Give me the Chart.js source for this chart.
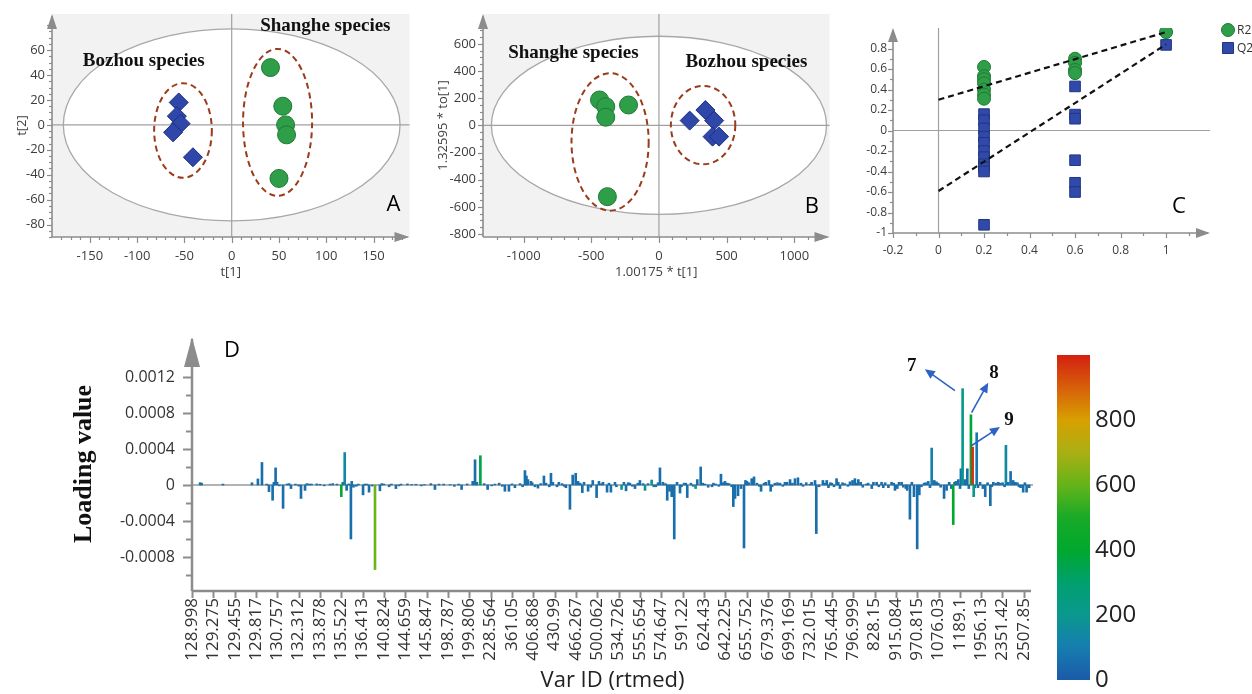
<!DOCTYPE html>
<html>
<head>
<meta charset="utf-8">
<title>Scores, permutation test and loading plot</title>
<script src="https://cdn.jsdelivr.net/npm/chart.js@4.4.1/dist/chart.umd.min.js"></script>
<style>
  body { margin: 0; background: #fff; }
  #wrap { position: relative; width: 1252px; height: 694px; overflow: hidden; }
  canvas { position: absolute; }
</style>
</head>
<body>
<div id="wrap">
  <canvas id="chartA" width="420" height="300" style="left:0;top:0"></canvas>
  <canvas id="chartB" width="420" height="300" style="left:420px;top:0"></canvas>
  <canvas id="chartC" width="412" height="300" style="left:840px;top:0"></canvas>
  <canvas id="chartD" width="1050" height="374" style="left:0;top:320px"></canvas>
  <canvas id="colorBar" width="202" height="354" style="left:1050px;top:340px"></canvas>
</div>
<script>
// ---- A : PCA score plot
const aShangheX = [41, 54, 57, 58, 50];
const aShangheY = [46, 15, 0, -8, -43];
const aBozhouX = [-56, -58, -54, -62, -41];
const aBozhouY = [18, 7, 1, -6, -26];
const aEllipse = [178, 77];                 // Hotelling T2 radii
const aGroupShanghe = [48.5, 2, 36.5, 59];  // cx, cy, rx, ry
const aGroupBozhou = [-51.5, -4.5, 30.5, 38];

// ---- B : OPLS-DA score plot
const bShangheX = [-439, -393, -393, -225, -381];
const bShangheY = [187, 138, 60, 150, -525];
const bBozhouX = [227, 343, 408, 396, 444];
const bBozhouY = [35, 113, 35, -83, -83];
const bEllipse = [1238, 656];
const bGroupShanghe = [-361, -122, 285, 506];
const bGroupBozhou = [326, 2, 238, 289];

// ---- C : permutation test
const cR2X = [0.2, 0.2, 0.2, 0.2, 0.2, 0.2, 0.2, 0.6, 0.6, 0.6, 0.6, 1];
const cR2Y = [0.62, 0.53, 0.50, 0.46, 0.40, 0.35, 0.31, 0.70, 0.66, 0.59, 0.56, 0.96];
const cQ2X = [0.2, 0.2, 0.2, 0.2, 0.2, 0.2, 0.2, 0.2, 0.2, 0.2, 0.2, 0.6, 0.6, 0.6, 0.6, 0.6, 0.6, 1];
const cQ2Y = [0.16, 0.10, 0.02, -0.06, -0.12, -0.20, -0.26, -0.33, -0.36, -0.40, -0.92,
              0.43, 0.155, 0.115, -0.29, -0.51, -0.60, 0.835];
const cFitX = [0, 1];
const cR2Fit = [0.30, 0.96];
const cQ2Fit = [-0.59, 0.84];

// ---- D : loading plot (x in tick units, loading in 1e-4, colour = colour bar value)
const varTicks = ['128.998', '129.275', '129.455', '129.817', '130.757', '132.312', '133.878', '135.522',
  '136.413', '140.824', '144.659', '145.847', '198.787', '199.806', '228.564', '361.05', '406.868', '430.99',
  '466.267', '500.062', '534.726', '555.654', '574.647', '591.22', '624.43', '642.225', '655.752', '679.376',
  '699.169', '732.015', '765.445', '796.999', '828.15', '915.084', '970.815', '1076.03', '1189.1', '1956.13',
  '2351.42', '2507.85'];
const loadPos = [
  0.38, 0.45, 1.45, 2.81, 3.09, 3.28, 3.61, 3.78, 3.84, 3.92, 3.99, 4.27, 4.45, 4.64, 4.85, 5.11, 5.30, 5.39, 5.6, 6.0, 6.47, 6.8,
  7.00, 7.07, 7.16, 7.25, 7.45, 7.49, 7.57, 7.8, 8.02, 8.2, 8.30, 8.58, 8.81, 9.0, 9.24, 9.56, 9.8,
  10.3, 10.9, 11.39, 11.58, 12.1, 12.64, 13.16, 13.27, 13.36, 13.52, 13.86, 14.2, 14.67, 14.86, 15.14, 15.38, 15.61, 15.68,
  15.75, 15.89, 16.08, 16.22, 16.50, 16.6, 16.83, 16.92, 17.11, 17.35, 17.53, 17.72, 17.85, 17.99, 18.10, 18.30, 18.38, 18.57,
  18.79, 18.97, 19.08, 19.27, 19.46, 19.64,
  19.83, 20.14, 20.25, 20.35, 20.53, 20.77, 21.0, 21.24, 21.38, 21.55, 21.75, 21.94, 22.08, 22.28, 22.39, 22.49, 22.61, 22.74,
  22.88, 23.07, 23.22, 23.39, 23.61, 23.69, 23.85, 24.05, 24.38, 24.56, 24.80, 24.99, 25.18, 25.38, 25.46, 25.60, 25.74, 25.88,
  25.95, 26.02, 26.24, 26.35, 26.49, 26.68, 26.82, 27.05, 27.13, 27.33, 27.57, 27.80, 28.04, 28.27, 28.41, 28.55, 28.97, 29.21,
  29.27, 29.58,
  29.76, 29.84, 30.0, 30.22, 30.38, 30.61, 30.97, 31.08, 31.24, 31.35, 31.6, 31.87, 32.10, 32.33, 32.41, 32.80, 32.96, 33.07,
  33.27, 33.47, 33.53, 33.66, 33.85, 34.0, 34.10, 34.32, 34.52, 34.68, 34.80, 34.99, 35.26, 35.38, 35.69, 35.82, 35.93, 36.01,
  36.05, 36.13, 36.24, 36.35, 36.42, 36.52, 36.60, 36.65, 36.79, 36.85, 37.08, 37.19, 37.43, 37.57, 37.69, 37.88, 38.16, 38.26,
  38.38, 38.50, 38.77, 38.97, 39.13
];
const loadE4 = [
  0.25, 0.2, 0.1, 0.25, 0.67, 2.5, -0.74, -1.7, 0.3, 1.9, 0.3, -2.6, 0.1, -0.4, 0.1, -1.5, -0.6, 0.15, 0.1, 0.08, 0.1, 0.1,
  -1.3, 0.3, 3.6, -0.6, -6.0, 0.4, -0.25, 0.1, -1.1, 0.1, -0.8, -9.4, -0.65, 0.1, -0.2, -0.4, 0.1,
  0.05, 0.05, -0.5, 0.1, 0.05, -0.5, 0.4, 2.8, 0.3, 3.25, -0.5, 0.1, -0.7, -0.7, -0.3, 0.15, 1.6, 1.0,
  0.6, 0.4, -0.2, -0.35, 1.0, 0.2, 1.3, 0.3, -0.2, 0.15, -0.3, -2.7, 1.1, 1.3, 0.4, -0.85, 0.3, -0.7,
  0.5, -1.4, 0.4, 0.3, -0.8, -0.8,
  0.3, -0.5, 0.3, -0.65, 0.2, -0.4, 0.5, -0.6, 0.15, 0.55, -0.2, 1.9, 0.3, -1.7, -0.7, -1.3, -6.0, 0.3,
  -0.9, 0.2, -1.4, 0.2, -0.4, 0.6, 2.0, 0.1, -0.2, 0.1, 1.2, 0.4, 0.15, -2.4, -1.5, -1.2, -0.4, -7.0,
  0.5, 0.4, 0.7, 0.9, 0.2, -0.7, 0.2, 0.5, -0.7, 0.2, 0.2, 0.3, 0.6, 0.7, 0.8, 0.2, 0.1, 0.5,
  -5.4, 0.5,
  0.5, -0.3, 0.2, 0.7, -0.4, 0.15, 0.5, 0.7, 0.6, 0.3, 0.1, -0.4, 0.3, 0.3, -0.3, 0.3, -0.6, -0.4,
  0.3, -0.4, -0.6, -3.8, -1.3, -7.1, -1.1, 0.2, 0.4, 4.1, 0.5, 0.2, -1.5, -0.6, -4.4, 0.4, 0.6, -0.4,
  1.8, 10.7, 0.6, 1.8, -0.4, 7.8, 4.2, -1.3, 5.8, -0.3, -0.4, -1.3, -2.3, 0.3, 0.2, 0.2, 4.4, 0.3,
  1.5, 0.5, -0.2, -0.8, -0.8
];
const loadCol = [
  60, 60, 60, 60, 60, 60, 60, 60, 60, 60, 60, 60, 60, 60, 60, 60, 60, 60, 60, 60, 60, 60,
  440, 60, 140, 60, 60, 60, 60, 60, 60, 60, 60, 610, 60, 60, 60, 60, 60,
  60, 60, 60, 60, 60, 60, 60, 60, 60, 360, 60, 60, 60, 60, 60, 60, 60, 60,
  60, 60, 60, 60, 60, 60, 60, 60, 60, 60, 60, 60, 60, 60, 60, 60, 60, 60,
  60, 60, 60, 60, 60, 60,
  60, 190, 60, 60, 60, 60, 60, 190, 60, 200, 60, 60, 60, 60, 60, 60, 60, 60,
  60, 60, 60, 60, 190, 60, 60, 60, 60, 60, 60, 60, 60, 60, 60, 60, 60, 60,
  60, 60, 60, 60, 60, 60, 60, 60, 60, 60, 60, 60, 60, 60, 60, 60, 60, 60,
  60, 60,
  60, 60, 60, 60, 60, 60, 60, 60, 60, 60, 60, 60, 60, 60, 60, 60, 60, 60,
  60, 60, 60, 60, 60, 60, 60, 60, 60, 110, 60, 60, 60, 60, 400, 60, 60, 60,
  60, 210, 60, 60, 60, 380, 970, 220, 90, 60, 60, 60, 60, 60, 60, 60, 140, 60,
  60, 60, 60, 60, 60
];
// the many near-zero loadings that thicken the baseline (all low colour value)
const smallPos = [
  3.5, 4.1, 4.55, 5.0, 5.5, 5.85, 6.2, 6.6, 7.35, 7.7,
  8.1, 8.45, 8.9, 9.35, 9.7, 10.1, 10.5, 10.75, 11.2, 11.8,
  12.3, 12.5, 12.9, 13.7, 14.05, 14.4, 14.55, 15.0, 15.5, 15.95,
  16.35, 16.75, 17.2, 17.45, 18.2, 18.7, 19.2, 19.55, 19.9, 20.45,
  20.65, 20.9, 21.15, 21.65, 21.85, 22.2, 22.95, 23.15, 23.5, 23.95,
  24.2, 24.45, 24.7, 24.9, 25.1, 25.3, 26.1, 26.6, 26.9, 27.2,
  27.45, 27.7, 27.9, 28.15, 28.65, 28.8, 29.05, 29.4, 29.68, 29.93,
  30.1, 30.3, 30.5, 30.75, 30.85, 31.15, 31.45, 31.7, 31.95, 32.2,
  32.5, 32.65, 32.9, 33.15, 33.35, 33.75, 34.2, 34.4, 34.6, 34.9,
  35.1, 35.5, 35.6, 35.75, 36.3, 36.7, 36.95, 37.3, 37.5, 37.8,
  38.0, 38.1, 38.6, 38.7, 38.85, 39.05, 39.25
];
const smallE4 = [
  0.1, -0.1, 0.15, -0.12, 0.1, 0.12, -0.1, 0.15, 0.12, -0.15,
  0.1, -0.12, 0.15, 0.1, -0.1, 0.12, 0.08, -0.1, 0.15, 0.1,
  -0.15, 0.1, 0.12, 0.15, -0.1, 0.2, -0.15, 0.12, -0.2, 0.25,
  0.15, -0.2, 0.3, -0.15, 0.2, -0.25, 0.15, 0.2, -0.2, 0.25,
  -0.15, 0.2, 0.15, -0.2, 0.25, 0.15, -0.2, 0.2, -0.15, 0.2,
  -0.25, 0.2, -0.15, 0.25, 0.2, -0.2, 0.25, -0.15, 0.3, -0.2,
  0.25, -0.15, 0.3, 0.2, -0.15, 0.25, 0.3, -0.2, 0.2, 0.25,
  -0.2, 0.3, 0.25, -0.15, 0.35, 0.2, -0.25, 0.2, 0.3, -0.2,
  0.25, -0.3, 0.2, 0.3, -0.25, 0.3, -0.2, 0.25, -0.3, 0.35,
  -0.25, 0.3, -0.4, 0.3, 0.35, -0.3, 0.3, 0.25, -0.2, 0.3,
  0.25, -0.2, 0.3, 0.25, -0.3, 0.25, -0.3
];
const smallCol = 60;
const barTicks = [0, 200, 400, 600, 800];

if (loadPos.length !== loadE4.length || loadPos.length !== loadCol.length || smallPos.length !== smallE4.length) {
  console.error('loading arrays differ', loadPos.length, loadE4.length, loadCol.length, smallPos.length, smallE4.length);
}

const SANS = "'Open Sans', 'Noto Sans', sans-serif";
const SERIF = "'Liberation Serif', 'DejaVu Serif', serif";
const AXIS = '#8c8c8c';
const GREEN = '#2e9e48', GREEN_EDGE = '#1f7a35';
const BLUE = '#2f47a8', BLUE_EDGE = '#1e2f82';

Chart.defaults.font.family = SANS;
Chart.defaults.color = '#3c3c3c';

// colour bar stops (value, r, g, b)
const cmapStops = [
  [0, 27, 90, 168], [100, 22, 125, 175], [200, 10, 152, 142], [300, 0, 160, 110],
  [400, 0, 168, 45], [500, 25, 170, 40], [600, 100, 180, 25], [700, 170, 175, 20],
  [800, 215, 160, 0], [900, 215, 95, 10], [1000, 212, 32, 16]
];
function cmap(v) {
  for (let i = 1; i < cmapStops.length; i++) {
    const a = cmapStops[i - 1], b = cmapStops[i];
    if (v <= b[0]) {
      const t = (v - a[0]) / (b[0] - a[0]);
      const c = [1, 2, 3].map(k => Math.round(a[k] + (b[k] - a[k]) * t));
      return 'rgb(' + c.join(',') + ')';
    }
  }
  const l = cmapStops[cmapStops.length - 1];
  return 'rgb(' + l[1] + ',' + l[2] + ',' + l[3] + ')';
}

function pts(xs, ys) { return xs.map((v, i) => ({x: v, y: ys[i]})); }

function isMult(v, step) {
  const r = v / step;
  return Math.abs(r - Math.round(r)) < 1e-6;
}

function ellipsePath(ctx, x, y, g) {
  const cx = x.getPixelForValue(g[0]), cy = y.getPixelForValue(g[1]);
  const rx = Math.abs(x.getPixelForValue(g[0] + g[2]) - cx);
  const ry = Math.abs(y.getPixelForValue(g[1] + g[3]) - cy);
  ctx.beginPath();
  ctx.ellipse(cx, cy, rx, ry, 0, 0, Math.PI * 2);
}

function tickMarks(ctx, scale, t, horiz, a) {
  const first = Math.ceil(t.from / t.minor - 1e-6);
  for (let k = first; k * t.minor <= t.to + 1e-9; k++) {
    const v = k * t.minor;
    const len = isMult(v, t.major) ? t.majLen : t.minLen;
    const p = Math.round(scale.getPixelForValue(v)) + 0.5;
    ctx.beginPath();
    if (horiz) { ctx.moveTo(p, a.bottom); ctx.lineTo(p, a.bottom + len); }
    else { ctx.moveTo(a.left, p); ctx.lineTo(a.left - len, p); }
    ctx.stroke();
  }
}

// background, ellipses, axes with arrows, and text annotations
function deco(o) {
  return {
    id: 'deco',
    beforeDatasetsDraw(chart) {
      const {ctx, chartArea: a, scales: {x, y}} = chart;
      ctx.save();
      if (o.bg) {
        ctx.fillStyle = o.bg;
        ctx.fillRect(a.left, a.top, a.right - a.left, a.bottom - a.top);
      }
      if (o.ellipse) {
        ellipsePath(ctx, x, y, [0, 0, o.ellipse[0], o.ellipse[1]]);
        ctx.fillStyle = '#fff';
        ctx.fill();
        ctx.strokeStyle = '#a8a8a8';
        ctx.lineWidth = 1.3;
        ctx.stroke();
      }
      ctx.strokeStyle = o.zeroColor || '#a0a0a0';
      ctx.lineWidth = o.zeroWidth || 1.2;
      if (o.zeroX) {
        const px = x.getPixelForValue(0);
        ctx.beginPath(); ctx.moveTo(px, a.top); ctx.lineTo(px, a.bottom); ctx.stroke();
      }
      if (o.zeroY) {
        const py = y.getPixelForValue(0);
        ctx.beginPath(); ctx.moveTo(a.left, py); ctx.lineTo(a.right, py); ctx.stroke();
      }
      (o.groups || []).forEach(g => {
        ellipsePath(ctx, x, y, g);
        ctx.setLineDash([6, 4]);
        ctx.strokeStyle = '#9a3b1b';
        ctx.lineWidth = 2;
        ctx.stroke();
        ctx.setLineDash([]);
      });
      // axes
      ctx.strokeStyle = AXIS;
      ctx.fillStyle = AXIS;
      ctx.lineWidth = o.axisWidth;
      ctx.beginPath(); ctx.moveTo(a.left, a.bottom); ctx.lineTo(a.left, a.top + 2); ctx.stroke();
      ctx.beginPath(); ctx.moveTo(a.left, a.bottom); ctx.lineTo(a.right - 2, a.bottom); ctx.stroke();
      ctx.lineWidth = o.tickWidth || 1.2;
      tickMarks(ctx, x, o.xTicks, true, a);
      tickMarks(ctx, y, o.yTicks, false, a);
      const L = o.arrowLen, H = o.arrowHalf;
      ctx.beginPath();
      ctx.moveTo(a.left, a.top); ctx.lineTo(a.left - H, a.top + L); ctx.lineTo(a.left + H, a.top + L);
      ctx.closePath(); ctx.fill();
      if (o.arrowX) {
        ctx.beginPath();
        ctx.moveTo(a.right, a.bottom); ctx.lineTo(a.right - L, a.bottom - H); ctx.lineTo(a.right - L, a.bottom + H);
        ctx.closePath(); ctx.fill();
      }
      ctx.restore();
    },
    afterDatasetsDraw(chart) {
      const {ctx, chartArea: a, scales: {x, y}} = chart;
      ctx.save();
      (o.pointers || []).forEach(p => {
        const x0 = x.getPixelForValue(p.from[0]), y0 = y.getPixelForValue(p.from[1]);
        const x1 = x.getPixelForValue(p.to[0]), y1 = y.getPixelForValue(p.to[1]);
        const ang = Math.atan2(y1 - y0, x1 - x0);
        ctx.strokeStyle = '#2d63c4';
        ctx.fillStyle = '#2d63c4';
        ctx.lineWidth = 1.6;
        ctx.beginPath(); ctx.moveTo(x0, y0);
        ctx.lineTo(x1 - 8 * Math.cos(ang), y1 - 8 * Math.sin(ang)); ctx.stroke();
        ctx.beginPath();
        ctx.moveTo(x1, y1);
        ctx.lineTo(x1 - 10 * Math.cos(ang) + 4.5 * Math.sin(ang), y1 - 10 * Math.sin(ang) - 4.5 * Math.cos(ang));
        ctx.lineTo(x1 - 10 * Math.cos(ang) - 4.5 * Math.sin(ang), y1 - 10 * Math.sin(ang) + 4.5 * Math.cos(ang));
        ctx.closePath(); ctx.fill();
      });
      ctx.textAlign = 'center';
      ctx.textBaseline = 'middle';
      (o.texts || []).forEach(t => {
        ctx.font = t.font;
        ctx.fillStyle = t.color || '#111';
        ctx.fillText(t.text, x.getPixelForValue(t.at[0]), y.getPixelForValue(t.at[1]));
      });
      if (o.legend) {
        ctx.textAlign = 'left';
        ctx.font = '12px ' + SANS;
        chart.data.datasets.forEach(ds => {
          if (!ds.legendRow) return;
          const ly = o.legend.top + (ds.legendRow - 1) * 18;
          const lx = a.right + o.legend.dx;
          ctx.fillStyle = ds.backgroundColor;
          ctx.strokeStyle = ds.borderColor;
          ctx.lineWidth = 1;
          ctx.beginPath();
          if (ds.pointStyle === 'rect') ctx.rect(lx - 5.5, ly - 5.5, 11, 11);
          else ctx.arc(lx, ly, 6.5, 0, Math.PI * 2);
          ctx.fill(); ctx.stroke();
          ctx.fillStyle = '#333';
          ctx.fillText(ds.label, lx + 9, ly + 1);
        });
      }
      ctx.restore();
    }
  };
}

// linear scale with a fixed box size and no label overhang padding
function fixedScale(opts, size, horiz) {
  return Object.assign({
    type: 'linear',
    grid: {display: false, drawTicks: false},
    border: {display: false},
    afterFit: s => {
      if (horiz) s.height = size; else s.width = size;
      s.paddingTop = s.paddingBottom = s.paddingLeft = s.paddingRight = 0;
    }
  }, opts);
}

const baseOpts = {
  responsive: false,
  animation: false,
  events: [],
  plugins: {legend: {display: false}, tooltip: {enabled: false}}
};

function scoreChart(id, cfg) {
  const tickFont = {size: 13};
  new Chart(document.getElementById(id), {
    type: 'scatter',
    data: {
      datasets: [
        {data: cfg.green, pointStyle: 'circle', pointRadius: 9, backgroundColor: GREEN, borderColor: GREEN_EDGE, borderWidth: 1},
        {data: cfg.blue, pointStyle: 'rectRot', pointRadius: 9.5, backgroundColor: BLUE, borderColor: BLUE_EDGE, borderWidth: 1}
      ]
    },
    options: Object.assign({}, baseOpts, {
      layout: {padding: {top: 14, right: cfg.padRight, left: 0, bottom: 0}},
      scales: {
        x: fixedScale({
          min: cfg.x[0], max: cfg.x[1],
          ticks: {stepSize: cfg.x[2], includeBounds: false, autoSkip: false, maxTicksLimit: 60, padding: 11,
                  minRotation: 0, maxRotation: 0,
                  font: tickFont, callback: v => (isMult(v, cfg.x[3]) ? v : '')},
          title: {display: true, text: cfg.xTitle, font: tickFont, color: '#404040', padding: {top: 0, bottom: 20}}
        }, 63, true),
        y: fixedScale({
          min: cfg.y[0], max: cfg.y[1],
          ticks: {stepSize: cfg.y[2], includeBounds: false, autoSkip: false, maxTicksLimit: 60, padding: 7,
                  font: tickFont, callback: v => (isMult(v, cfg.y[3]) && v <= cfg.y[4] ? v : '')},
          title: {display: true, text: cfg.yTitle, font: tickFont, color: '#404040', padding: {top: cfg.yTitlePad, bottom: 0}}
        }, cfg.yWidth, false)
      }
    }),
    plugins: [deco(cfg.deco)]
  });
}

scoreChart('chartA', {
  green: pts(aShangheX, aShangheY), blue: pts(aBozhouX, aBozhouY),
  x: [-190, 188, 50, 50], y: [-90, 89, 20, 20, 60], padRight: 3, yWidth: 52, yTitlePad: 14,
  xTitle: 't[1]', yTitle: 't[2]',
  deco: {
    bg: '#f2f2f2', ellipse: aEllipse, groups: [aGroupBozhou, aGroupShanghe], zeroX: true, zeroY: true,
    axisWidth: 1.6, arrowX: true, arrowLen: 15, arrowHalf: 5,
    xTicks: {from: -180, to: 180, minor: 10, major: 50, majLen: 6, minLen: 3},
    yTicks: {from: -90, to: 80, minor: 5, major: 20, majLen: 5, minLen: 3},
    texts: [
      {text: 'Shanghe species', at: [99, 79.3], font: 'bold 19px ' + SERIF},
      {text: 'Bozhou species', at: [-93, 51.2], font: 'bold 19px ' + SERIF},
      {text: 'A', at: [171, -64], font: '22px ' + SANS, color: '#000'}
    ]
  }
});

scoreChart('chartB', {
  green: pts(bShangheX, bShangheY), blue: pts(bBozhouX, bBozhouY),
  x: [-1300, 1260, 100, 500], y: [-822, 820, 50, 200, 600], padRight: 2, yWidth: 63, yTitlePad: 15,
  xTitle: '1.00175 * t[1]', yTitle: '1.32595 * to[1]',
  deco: {
    bg: '#f2f2f2', ellipse: bEllipse, groups: [bGroupShanghe, bGroupBozhou], zeroX: true, zeroY: true,
    axisWidth: 1.6, arrowX: true, arrowLen: 15, arrowHalf: 5,
    xTicks: {from: -1200, to: 1200, minor: 100, major: 500, majLen: 6, minLen: 3},
    yTicks: {from: -800, to: 750, minor: 50, major: 200, majLen: 5, minLen: 3},
    texts: [
      {text: 'Shanghe species', at: [-632, 534], font: 'bold 19px ' + SERIF},
      {text: 'Bozhou species', at: [646, 467], font: 'bold 19px ' + SERIF},
      {text: 'B', at: [1130, -601], font: '22px ' + SANS, color: '#000'}
    ]
  }
});

// C : permutation plot
new Chart(document.getElementById('chartC'), {
  type: 'scatter',
  data: {
    datasets: [
      {data: pts(cFitX, cR2Fit), showLine: true, pointRadius: 0, borderColor: '#111', borderWidth: 2.2, borderDash: [6, 4]},
      {data: pts(cFitX, cQ2Fit), showLine: true, pointRadius: 0, borderColor: '#111', borderWidth: 2.2, borderDash: [6, 4]},
      {label: 'R2', legendRow: 1, data: pts(cR2X, cR2Y), pointStyle: 'circle', pointRadius: 6.5,
       backgroundColor: GREEN, borderColor: GREEN_EDGE, borderWidth: 1},
      {label: 'Q2', legendRow: 2, data: pts(cQ2X, cQ2Y), pointStyle: 'rect', pointRadius: 7.5,
       backgroundColor: '#3049aa', borderColor: '#22367f', borderWidth: 1}
    ]
  },
  options: Object.assign({}, baseOpts, {
    layout: {padding: {top: 28, right: 42, left: 0, bottom: 0}},
    scales: {
      x: fixedScale({
        min: -0.2, max: 1.193,
        ticks: {stepSize: 0.1, includeBounds: false, autoSkip: false, maxTicksLimit: 60, padding: 10, font: {size: 12},
                minRotation: 0, maxRotation: 0,
                callback: v => (isMult(v, 0.2) ? Math.round(v * 10) / 10 : '')}
      }, 67, true),
      y: fixedScale({
        min: -1, max: 1.0,
        ticks: {stepSize: 0.1, includeBounds: false, autoSkip: false, maxTicksLimit: 60, padding: 6, font: {size: 12},
                callback: v => (isMult(v, 0.2) && v < 0.85 ? Math.round(v * 10) / 10 : '')}
      }, 53, false)
    }
  }),
  plugins: [deco({
    zeroX: true, zeroY: true, axisWidth: 1.6, arrowX: true, arrowLen: 14, arrowHalf: 5,
    xTicks: {from: -0.2, to: 1.15, minor: 0.1, major: 0.2, majLen: 5, minLen: 3},
    yTicks: {from: -1, to: 0.9, minor: 0.1, major: 0.2, majLen: 5, minLen: 3},
    texts: [{text: 'C', at: [1.057, -0.747], font: '22px ' + SANS, color: '#000'}],
    legend: {top: 30, dx: 18}
  })]
});

// D : loading plot
new Chart(document.getElementById('chartD'), {
  type: 'bar',
  data: {
    datasets: [
      {
        data: loadPos.map((p, i) => ({x: p, y: loadE4[i] / 1e4})),
        backgroundColor: loadCol.map(cmap),
        barThickness: 2,
        borderWidth: 0,
        grouped: false,
        order: 0
      },
      {
        data: smallPos.map((p, i) => ({x: p, y: smallE4[i] / 1e4})),
        backgroundColor: cmap(smallCol),
        barThickness: 2,
        borderWidth: 0,
        grouped: false,
        order: 1
      }
    ]
  },
  options: Object.assign({}, baseOpts, {
    layout: {padding: {top: 17, right: 17, left: 0, bottom: 0}},
    scales: {
      x: fixedScale({
        min: 0, max: 39.43, offset: false,
        ticks: {stepSize: 1, includeBounds: false, maxTicksLimit: 100, autoSkip: false, minRotation: 90, maxRotation: 90,
                padding: 7, font: {size: 17}, color: '#333',
                callback: v => (Number.isInteger(v) && varTicks[v] !== undefined ? varTicks[v] : '')},
        title: {display: true, text: 'Var ID (rtmed)', font: {size: 22}, color: '#222', padding: {top: 0, bottom: 0}}
      }, 103, true),
      y: fixedScale({
        min: -0.001178, max: 0.001644,
        ticks: {stepSize: 0.0002, includeBounds: false, autoSkip: false, maxTicksLimit: 60, padding: 17,
                font: {size: 16}, color: '#333',
                callback: v => {
                  const k = Math.round(v * 1e4);
                  if (k % 4 !== 0 || k < -8 || k > 12) return '';
                  return k === 0 ? '0' : (k / 1e4).toFixed(4);
                }},
        title: {display: true, text: 'Loading value', font: {family: SERIF, size: 26, weight: 'bold'}, color: '#111',
                padding: {top: 69, bottom: 0}}
      }, 192, false)
    }
  }),
  plugins: [deco({
    zeroY: true, zeroColor: '#9a9a9a', zeroWidth: 1.5, axisWidth: 2.5, arrowX: false, arrowLen: 30, arrowHalf: 8,
    tickWidth: 2,
    xTicks: {from: 0, to: 39, minor: 1, major: 1, majLen: 7, minLen: 7},
    yTicks: {from: -0.001, to: 0.0012, minor: 0.0002, major: 0.0004, majLen: 9, minLen: 6},
    pointers: [
      {from: [35.77, 0.001048], to: [34.36, 0.001286]},
      {from: [36.55, 0.000803], to: [37.33, 0.001137]},
      {from: [36.52, 0.000433], to: [37.88, 0.000644]}
    ],
    texts: [
      {text: 'D', at: [1.87, 0.00149], font: '22px ' + SANS, color: '#000'},
      {text: '7', at: [33.74, 0.001322], font: 'bold 19px ' + SERIF},
      {text: '8', at: [37.6, 0.001248], font: 'bold 19px ' + SERIF},
      {text: '9', at: [38.3, 0.000722], font: 'bold 19px ' + SERIF}
    ]
  })]
});

// colour bar
new Chart(document.getElementById('colorBar'), {
  type: 'bar',
  data: {
    labels: [''],
    datasets: [{
      data: [[0, 1000]],
      barPercentage: 1,
      categoryPercentage: 1,
      borderWidth: 0,
      backgroundColor: c => {
        const {ctx, chartArea} = c.chart;
        if (!chartArea) return null;
        const g = ctx.createLinearGradient(0, chartArea.bottom, 0, chartArea.top);
        cmapStops.forEach(s => g.addColorStop(s[0] / 1000, cmap(s[0])));
        return g;
      }
    }]
  },
  options: Object.assign({}, baseOpts, {
    layout: {padding: {top: 15, right: 0, left: 7, bottom: 14}},
    scales: {
      x: {display: false},
      y: fixedScale({
        position: 'right', min: 0, max: 1000,
        ticks: {stepSize: 200, autoSkip: false, padding: 5, font: {size: 24}, color: '#222',
                callback: v => (barTicks.includes(v) ? v : '')}
      }, 162, false)
    }
  })
});
</script>
</body>
</html>
